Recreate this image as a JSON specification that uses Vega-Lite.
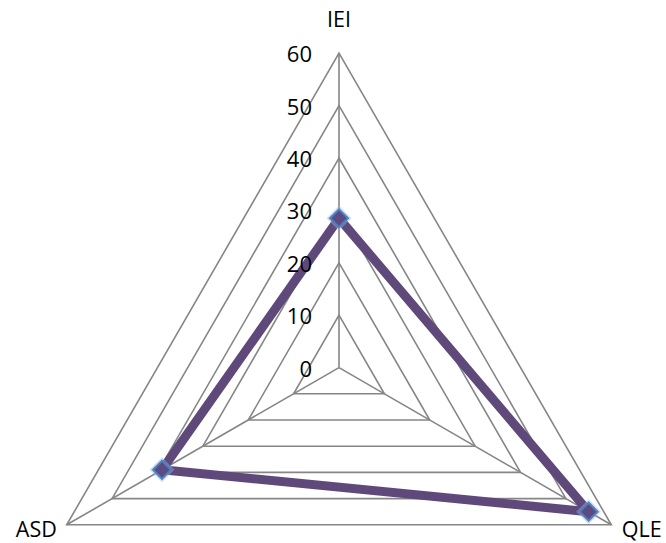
{
  "$schema": "https://vega.github.io/schema/vega-lite/v6.json",
  "width": 666,
  "height": 543,
  "autosize": {"type": "fit", "contains": "padding"},
  "padding": 0,
  "background": "white",
  "config": {"view": {"stroke": null}, "font": "Open Sans"},
  "datasets": {
    "scores": [
      {"axis": "IEI", "value": 28.5},
      {"axis": "QLE", "value": 55},
      {"axis": "ASD", "value": 39}
    ],
    "rings": [
      {"level": 10, "axis": "IEI"}, {"level": 10, "axis": "QLE"}, {"level": 10, "axis": "ASD"},
      {"level": 20, "axis": "IEI"}, {"level": 20, "axis": "QLE"}, {"level": 20, "axis": "ASD"},
      {"level": 30, "axis": "IEI"}, {"level": 30, "axis": "QLE"}, {"level": 30, "axis": "ASD"},
      {"level": 40, "axis": "IEI"}, {"level": 40, "axis": "QLE"}, {"level": 40, "axis": "ASD"},
      {"level": 50, "axis": "IEI"}, {"level": 50, "axis": "QLE"}, {"level": 50, "axis": "ASD"},
      {"level": 60, "axis": "IEI"}, {"level": 60, "axis": "QLE"}, {"level": 60, "axis": "ASD"}
    ],
    "ticks": [
      {"level": 0}, {"level": 10}, {"level": 20}, {"level": 30},
      {"level": 40}, {"level": 50}, {"level": 60}
    ]
  },
  "encoding": {
    "x": {"field": "px", "type": "quantitative", "axis": null,
          "scale": {"domain": [-64.69, 62.4], "nice": false, "zero": false}},
    "y": {"field": "py", "type": "quantitative", "axis": null,
          "scale": {"domain": [-33.47, 70.15], "nice": false, "zero": false}}
  },
  "layer": [
    {
      "data": {"name": "rings"},
      "transform": [
        {"calculate": "indexof(['IEI','QLE','ASD'], datum.axis)", "as": "idx"},
        {"calculate": "PI/2 - datum.idx*2*PI/3", "as": "a"},
        {"calculate": "datum.level*cos(datum.a)", "as": "px"},
        {"calculate": "datum.level*sin(datum.a)", "as": "py"}
      ],
      "mark": {"type": "line", "interpolate": "linear-closed", "stroke": "#868686", "strokeWidth": 1.6},
      "encoding": {
        "detail": {"field": "level", "type": "nominal"},
        "order": {"field": "idx", "type": "quantitative"}
      }
    },
    {
      "data": {"name": "rings"},
      "transform": [
        {"filter": "datum.level == 60"},
        {"calculate": "indexof(['IEI','QLE','ASD'], datum.axis)", "as": "idx"},
        {"calculate": "PI/2 - datum.idx*2*PI/3", "as": "a"},
        {"calculate": "datum.level*cos(datum.a)", "as": "px"},
        {"calculate": "datum.level*sin(datum.a)", "as": "py"},
        {"calculate": "0", "as": "zero"}
      ],
      "mark": {"type": "rule", "stroke": "#868686", "strokeWidth": 1.6},
      "encoding": {
        "x2": {"field": "zero"},
        "y2": {"field": "zero"}
      }
    },
    {
      "data": {"name": "scores"},
      "transform": [
        {"calculate": "indexof(['IEI','QLE','ASD'], datum.axis)", "as": "idx"},
        {"calculate": "PI/2 - datum.idx*2*PI/3", "as": "a"},
        {"calculate": "datum.value*cos(datum.a)", "as": "px"},
        {"calculate": "datum.value*sin(datum.a)", "as": "py"}
      ],
      "layer": [
        {
          "mark": {"type": "line", "interpolate": "linear-closed", "stroke": "#5F497A", "strokeWidth": 9, "strokeJoin": "round"},
          "encoding": {"order": {"field": "idx", "type": "quantitative"}}
        },
        {
          "mark": {"type": "point", "shape": "diamond", "size": 620, "filled": true, "fill": "#8EB4E3", "opacity": 0.45, "strokeWidth": 0}
        },
        {
          "mark": {"type": "point", "shape": "diamond", "size": 320, "filled": true, "fill": "#5B4B82", "stroke": "#4F81BD", "strokeWidth": 2, "opacity": 1}
        }
      ]
    },
    {
      "data": {"name": "ticks"},
      "transform": [
        {"calculate": "0", "as": "px"},
        {"calculate": "datum.level", "as": "py"}
      ],
      "mark": {"type": "text", "align": "right", "baseline": "middle", "dx": -27, "dy": 2, "fontSize": 22, "color": "#000000"},
      "encoding": {"text": {"field": "level", "type": "quantitative"}}
    },
    {
      "data": {"name": "scores"},
      "transform": [
        {"calculate": "indexof(['IEI','QLE','ASD'], datum.axis)", "as": "idx"},
        {"calculate": "PI/2 - datum.idx*2*PI/3", "as": "a"},
        {"calculate": "66.7*cos(datum.a)", "as": "px"},
        {"calculate": "datum.axis == 'IEI' ? 66.1 : 60*sin(datum.a) - 1.1", "as": "py"}
      ],
      "mark": {"type": "text", "align": "center", "baseline": "middle", "fontSize": 21.5, "color": "#000000"},
      "encoding": {"text": {"field": "axis", "type": "nominal"}}
    }
  ]
}
